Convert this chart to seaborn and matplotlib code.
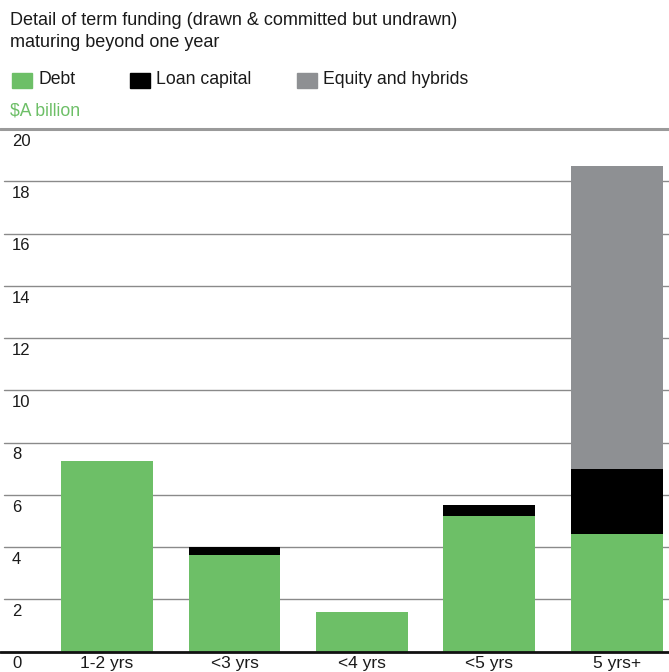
import matplotlib
matplotlib.use("Agg")
import matplotlib.pyplot as plt
import matplotlib.transforms as mtransforms
import seaborn as sns
import pandas as pd

categories = ["1-2 yrs", "<3 yrs", "<4 yrs", "<5 yrs", "5 yrs+"]
debt = [7.3, 3.7, 1.5, 5.2, 4.5]
loan_capital = [0.0, 0.3, 0.0, 0.4, 2.5]
equity_hybrids = [0.0, 0.0, 0.0, 0.0, 11.6]
y_ticks = [0, 2, 4, 6, 8, 10, 12, 14, 16, 18, 20]

GREEN = "#6dbf67"
BLACK = "#000000"
GREY = "#8e9093"
TEXT = "#1a1a1a"

sns.set_theme(style="white")
plt.rcParams["font.family"] = ["Liberation Sans", "DejaVu Sans"]

df = pd.DataFrame({
    "cat": categories,
    "debt": debt,
    "loan": [d + l for d, l in zip(debt, loan_capital)],
    "total": [d + l + e for d, l, e in zip(debt, loan_capital, equity_hybrids)],
})

fig = plt.figure(figsize=(6.69, 6.72), dpi=100)
ax = fig.add_axes([0.0, (672 - 651.5) / 672, 1.0, (651.5 - 129) / 672])

for col, c in [("total", GREY), ("loan", BLACK), ("debt", GREEN)]:
    sns.barplot(data=df, x="cat", y=col, color=c, width=0.72, saturation=1,
                linewidth=0, edgecolor="none", ax=ax)

ax.set_xlim(-0.84, 4.41)
ax.set_ylim(0, 20)
ax.set_xlabel("")
ax.set_ylabel("")
for s in ax.spines.values():
    s.set_visible(False)
ax.set_yticks([])
ax.set_xticks(range(len(categories)))
ax.set_xticklabels(categories, fontsize=12.5, color=TEXT)
ax.tick_params(axis="x", length=0, pad=3.5)

# gridlines
for v in y_ticks[1:-1]:
    ax.axhline(v, color="#8a8a8a", lw=1.0, zorder=0.5, xmin=0.006)
ax.axhline(20, color="#9a9a9a", lw=2.2, zorder=0.5, clip_on=False)
ax.axhline(0, color="#111111", lw=2.0, zorder=5, clip_on=False)

# y tick labels placed below each gridline
trans = mtransforms.blended_transform_factory(fig.transFigure, ax.transData)
offset = mtransforms.ScaledTranslation(0, -3.5 / 72, fig.dpi_scale_trans)
for v in y_ticks:
    ax.text(12 / 669, v, str(v), transform=trans + offset, ha="left", va="top",
            fontsize=12, color=TEXT)

# title
fig.text(10 / 669, 1 - 12 / 672, "Detail of term funding (drawn & committed but undrawn)\nmaturing beyond one year",
         ha="left", va="top", fontsize=13, color=TEXT, linespacing=1.4)

# legend
legend_items = [("Debt", GREEN, 12), ("Loan capital", BLACK, 130), ("Equity and hybrids", GREY, 297)]
for label, col, x0 in legend_items:
    fig.patches.append(plt.Rectangle((x0 / 669, 1 - 87.5 / 672), 20 / 669, 14.5 / 672,
                                     transform=fig.transFigure, color=col, figure=fig))
    fig.text((x0 + 26) / 669, 1 - 80 / 672, label, ha="left", va="center",
             fontsize=12.7, color=TEXT)

fig.text(10 / 669, 1 - 111 / 672, "$A billion", ha="left", va="center", fontsize=12.7, color=GREEN)

fig.savefig("out.png", dpi=100)
